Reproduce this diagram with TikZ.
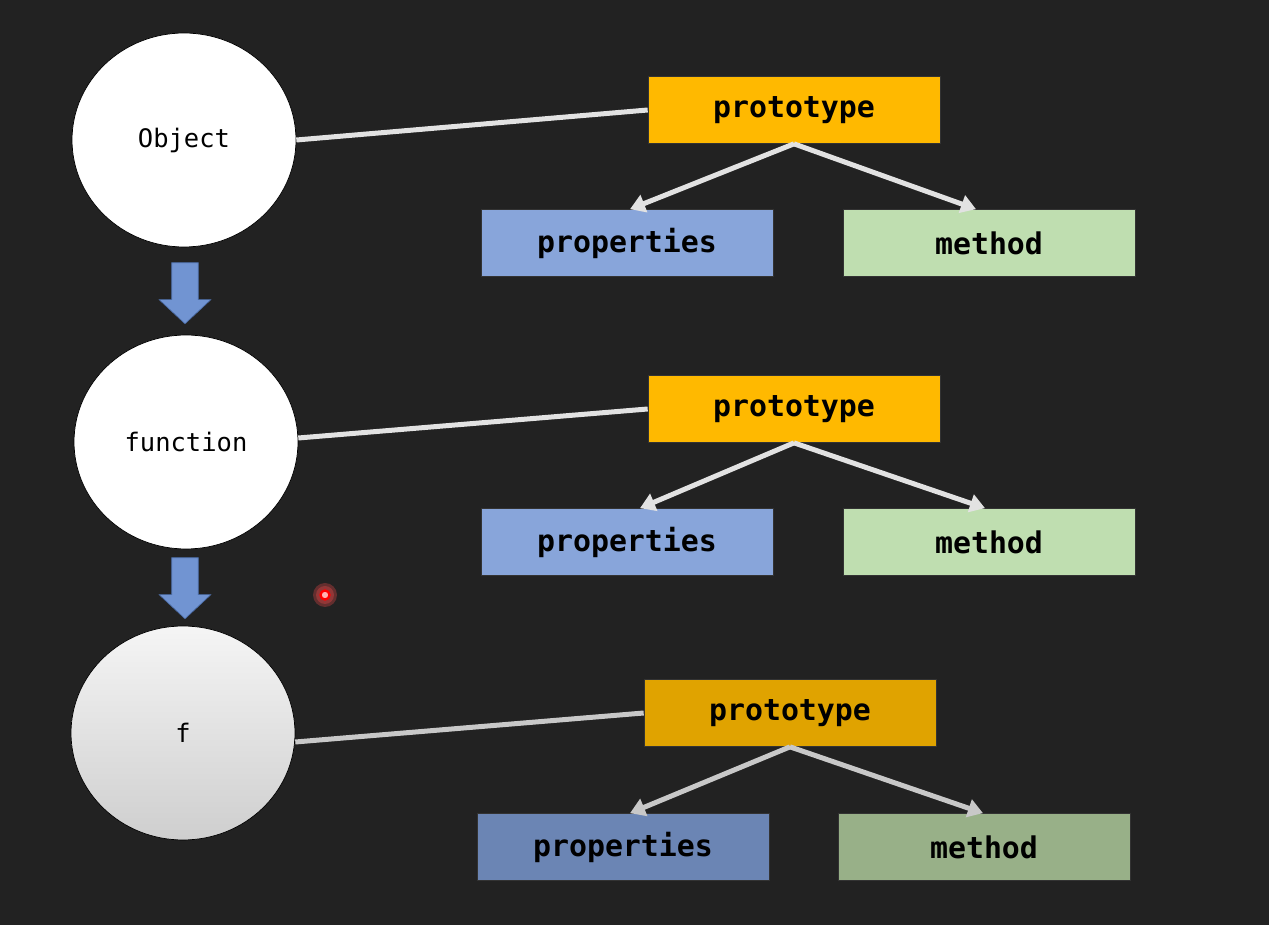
\documentclass[tikz,border=0pt]{standalone}
\usepackage{fontspec}
\setmonofont{DejaVu Sans Mono}
\usetikzlibrary{shapes.arrows,shapes.geometric,arrows.meta}
\definecolor{bgdark}{HTML}{222222}
\definecolor{protoyellow}{HTML}{FFB900}
\definecolor{propblue}{HTML}{88A5DA}
\definecolor{methgreen}{HTML}{BFDEB0}
\definecolor{protodark}{HTML}{E0A300}
\definecolor{propdark}{HTML}{6B85B4}
\definecolor{methdark}{HTML}{98B088}
\definecolor{linkgray}{HTML}{E2E2E2}
\definecolor{linkdark}{HTML}{C8C8C8}
\definecolor{downblue}{HTML}{7194D2}
\definecolor{downedge}{HTML}{4B6CA6}
\tikzset{
	objcircle/.style={ellipse, draw=black, thin, minimum width=4.48cm, minimum height=4.28cm,
		inner sep=0pt, font=\fontsize{14.5}{17}\selectfont\ttfamily},
	protobox/.style={rectangle, draw=black!80, thin, minimum width=5.84cm, minimum height=1.34cm,
		font=\fontsize{17}{20}\selectfont\ttfamily\bfseries},
	downarrow/.style={single arrow, draw=downedge, fill=downblue, rotate=-90, inner sep=0pt,
		minimum height=1.22cm, single arrow head extend=0.25cm, single arrow tip angle=94},
	link/.style={line width=0.1cm, color=linkgray},
	branch/.style={link, -{Triangle[length=0.3cm, width=0.36cm]}}
}
\begin{document}
\begin{tikzpicture}[x=0.02cm, y=-0.02cm]
			%%%%% BACKGROUND %%%%%
			\fill[bgdark] (0, 0) rectangle (1269, 925);
			
			%%%%% CIRCLES %%%%%
			\node[objcircle, fill=white] (obj) at (184, 140) {Object};
			\node[objcircle, fill=white] (fun) at (186, 442) {function};
			\node[objcircle, top color=gray!8, bottom color=gray!38] (ff) at (183, 733) {f};
			
			\node[downarrow] (d1) at (185, 287) {\rule{0pt}{0.52cm}};
			\node[downarrow] (d2) at (185, 582) {\rule{0pt}{0.52cm}};
			
			%%%%% ROW 1 %%%%%
			\node[protobox, fill=protoyellow] (p1) at (794, 110) {prototype};
			\node[protobox, fill=propblue] (pr1) at (627, 243) {properties};
			\node[protobox, fill=methgreen] (m1) at (989, 243) {method};
			\draw[link] (obj.east) -- (p1.west);
			\draw[branch] (p1.south) -- ([xshift=0.06cm]pr1.north);
			\draw[branch] (p1.south) -- ([xshift=-0.26cm]m1.north);
			
			%%%%% ROW 2 %%%%%
			\node[protobox, fill=protoyellow] (p2) at (794, 409) {prototype};
			\node[protobox, fill=propblue] (pr2) at (627, 542) {properties};
			\node[protobox, fill=methgreen] (m2) at (989, 542) {method};
			\draw[link] ([yshift=0.08cm]fun.east) -- (p2.west);
			\draw[branch] (p2.south) -- ([xshift=0.26cm]pr2.north);
			\draw[branch] (p2.south) -- ([xshift=-0.08cm]m2.north);
			
			%%%%% ROW 3 %%%%%
			\node[protobox, fill=protodark] (p3) at (790, 713) {prototype};
			\node[protobox, fill=propdark] (pr3) at (623, 847) {properties};
			\node[protobox, fill=methdark] (m3) at (984, 847) {method};
			\draw[link, color=linkdark] ([yshift=-0.18cm]ff.east) -- (p3.west);
			\draw[branch, color=linkdark] (p3.south) -- ([xshift=0.14cm]pr3.north);
			\draw[branch, color=linkdark] (p3.south) -- ([xshift=-0.02cm]m3.north);
			
			%%%%% POINTER %%%%%
			\fill[red!70!white, opacity=0.3] (325, 595) circle (12);
			\fill[red!70!white, opacity=0.3] (325, 595) circle (9);
			\draw[red, line width=1.3pt, fill=red!30!white] (325, 595) circle (4.5);
			
\end{tikzpicture}
\end{document}
